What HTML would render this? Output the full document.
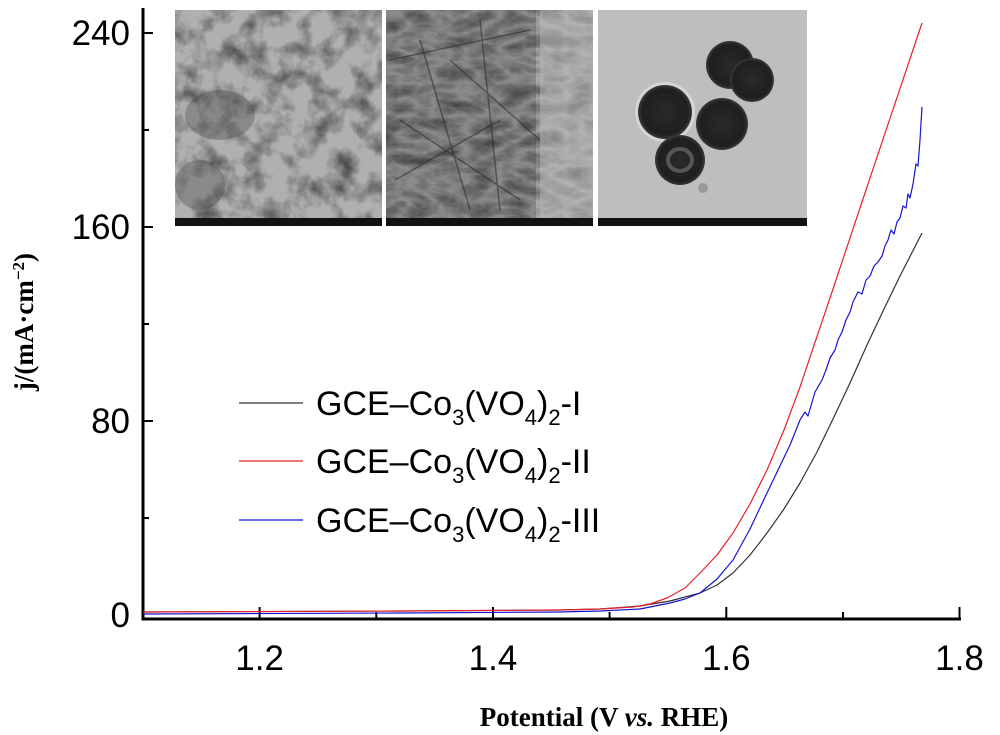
<!DOCTYPE html>
<html><head><meta charset="utf-8"><style>
html,body{margin:0;padding:0;background:#fff;}
svg{display:block}
</style></head><body>
<svg width="1000" height="735" viewBox="0 0 1000 735" xmlns="http://www.w3.org/2000/svg">
<defs>
<filter id="t1" x="0" y="0" width="100%" height="100%">
<feTurbulence type="fractalNoise" baseFrequency="0.045" numOctaves="4" seed="3"/>
<feColorMatrix type="matrix" values="0 0 0 0 0  0 0 0 0 0  0 0 0 0 0  -1.6 0 0 0 0.95"/>
</filter>
<filter id="t2" x="0" y="0" width="100%" height="100%">
<feTurbulence type="turbulence" baseFrequency="0.03 0.06" numOctaves="3" seed="7"/>
<feColorMatrix type="matrix" values="0 0 0 0 0  0 0 0 0 0  0 0 0 0 0  1.2 0 0 0 -0.1"/>
</filter>
<clipPath id="c1"><rect x="175" y="10" width="207" height="208"/></clipPath>
<clipPath id="c2"><rect x="386" y="10" width="207" height="208"/></clipPath>
<radialGradient id="sph" cx="50%" cy="50%" r="50%"><stop offset="0" stop-color="#2a2a2a"/><stop offset="0.85" stop-color="#1f1f1f"/><stop offset="1" stop-color="#3a3a3a"/></radialGradient>
</defs>

<rect x="175" y="10" width="207" height="208" fill="#b0b0b0"/>
<g clip-path="url(#c1)">
<rect x="175" y="10" width="207" height="208" filter="url(#t1)" opacity="0.7"/>
<ellipse cx="220" cy="115" rx="35" ry="25" fill="#444" opacity="0.35"/>
<ellipse cx="200" cy="185" rx="25" ry="25" fill="#444" opacity="0.35"/>
</g>
<rect x="175" y="218" width="207" height="8" fill="#111"/>

<rect x="386" y="10" width="207" height="208" fill="#a8a8a8"/>
<g clip-path="url(#c2)">
<rect x="386" y="10" width="150" height="208" fill="#555" opacity="0.35"/>
<rect x="386" y="10" width="207" height="208" filter="url(#t2)" opacity="0.6"/>
<path d="M390 60 L530 30 M400 120 L520 200 M420 40 L470 210 M450 60 L540 140 M395 180 L500 120 M480 20 L500 210" stroke="#222" stroke-width="1.5" opacity="0.5" fill="none"/>
<rect x="540" y="10" width="53" height="208" fill="#bbb" opacity="0.5"/>
</g>
<rect x="386" y="218" width="207" height="8" fill="#111"/>

<rect x="598" y="10" width="209" height="208" fill="#bebebe"/>
<circle cx="665" cy="112" r="30" fill="#e6e6e6" opacity="0.6"/>
<circle cx="730" cy="65" r="24" fill="url(#sph)"/>
<circle cx="752" cy="80" r="22" fill="url(#sph)"/>
<circle cx="665" cy="112" r="27" fill="url(#sph)"/>
<circle cx="722" cy="124" r="26" fill="url(#sph)"/>
<circle cx="680" cy="160" r="25" fill="url(#sph)"/>
<ellipse cx="680" cy="160" rx="12" ry="11" fill="none" stroke="#555" stroke-width="4"/>
<circle cx="703" cy="188" r="5" fill="#999"/>
<rect x="598" y="218" width="209" height="8" fill="#111"/>

<g stroke="#000" fill="none">
<line x1="143" y1="8" x2="143" y2="620" stroke-width="3"/>
<line x1="141.5" y1="619" x2="961" y2="619" stroke-width="3"/>
<g stroke-width="2">
<line x1="143" y1="33" x2="153" y2="33"/>
<line x1="143" y1="130" x2="149" y2="130"/>
<line x1="143" y1="227" x2="153" y2="227"/>
<line x1="143" y1="324" x2="149" y2="324"/>
<line x1="143" y1="421" x2="153" y2="421"/>
<line x1="143" y1="518" x2="149" y2="518"/>
<line x1="259.6" y1="619" x2="259.6" y2="607"/>
<line x1="376.3" y1="619" x2="376.3" y2="612"/>
<line x1="493" y1="619" x2="493" y2="607"/>
<line x1="609.6" y1="619" x2="609.6" y2="612"/>
<line x1="726.3" y1="619" x2="726.3" y2="607"/>
<line x1="843" y1="619" x2="843" y2="612"/>
<line x1="959.5" y1="619" x2="959.5" y2="607"/>
</g>
</g>
<g font-family="Liberation Sans, sans-serif" font-size="35" fill="#000" text-anchor="end">
<text x="130" y="45">240</text>
<text x="130" y="239">160</text>
<text x="130" y="433">80</text>
<text x="130" y="627">0</text>
</g>
<g font-family="Liberation Sans, sans-serif" font-size="35" fill="#000" text-anchor="middle">
<text x="259.6" y="670">1.2</text>
<text x="493" y="670">1.4</text>
<text x="726.3" y="670">1.6</text>
<text x="959.5" y="670">1.8</text>
</g>
<text x="604" y="726" text-anchor="middle" font-family="Liberation Serif, serif" font-weight="bold" font-size="27">Potential (V <tspan font-style="italic">vs.</tspan> RHE)</text>
<text transform="translate(33,322) rotate(-90)" text-anchor="middle" font-family="Liberation Serif, serif" font-weight="bold" font-size="27">j/(mA·cm<tspan baseline-shift="super" font-size="17">−2</tspan>)</text>

<g fill="none" stroke-width="1.2" stroke-linejoin="round">
<path stroke="#333" d="M143 612 L400 611 L560 610 L600 609 L640 606 L670 601 L700 593 L717 585 L733 573 L750 555 L767 533 L784 509 L800 483 L817 452 L833 419 L850 383 L867 345 L884 309 L900 276 L922 233"/>
<path stroke="#e8202a" d="M143 612 L400 611 L560 610 L600 609 L633 607 L650 604 L667 598 L685 588 L700 573 L717 555 L733 533 L750 504 L767 470 L784 430 L800 387 L833 289 L866 190 L922 23"/>
<path stroke="#1515d0" d="M143 614 L400 613 L560 612 L600 611 L640 609 L670 603 L685 599 L700 593 L717 579 L733 560 L750 529 L767 493 L790 445 L800 420 L805 412 L808 416 L815 392 L822 380 L826 370 L830 358 L835 350 L838 340 L842 332 L846 320 L850 312 L853 302 L858 292 L862 294 L866 280 L870 276 L874 266 L878 262 L882 256 L885 246 L888 240 L891 230 L894 234 L897 222 L900 218 L903 206 L906 208 L908 194 L910 198 L913 184 L916 164 L918 166 L920 140 L922 107"/>
</g>

<g stroke-width="1.2">
<line x1="239" y1="403" x2="303" y2="403" stroke="#333"/>
<line x1="239" y1="461" x2="303" y2="461" stroke="#e8202a"/>
<line x1="239" y1="520" x2="303" y2="520" stroke="#1515d0"/>
</g>
<g font-family="Liberation Sans, sans-serif" font-size="34" fill="#000">
<text x="316" y="415">GCE–Co<tspan font-size="22" dy="10">3</tspan><tspan dy="-10">(VO</tspan><tspan font-size="22" dy="10">4</tspan><tspan dy="-10">)</tspan><tspan font-size="22" dy="10">2</tspan><tspan dy="-10">-I</tspan></text>
<text x="316" y="473">GCE–Co<tspan font-size="22" dy="10">3</tspan><tspan dy="-10">(VO</tspan><tspan font-size="22" dy="10">4</tspan><tspan dy="-10">)</tspan><tspan font-size="22" dy="10">2</tspan><tspan dy="-10">-II</tspan></text>
<text x="316" y="532">GCE–Co<tspan font-size="22" dy="10">3</tspan><tspan dy="-10">(VO</tspan><tspan font-size="22" dy="10">4</tspan><tspan dy="-10">)</tspan><tspan font-size="22" dy="10">2</tspan><tspan dy="-10">-III</tspan></text>
</g>
</svg>
</body></html>
